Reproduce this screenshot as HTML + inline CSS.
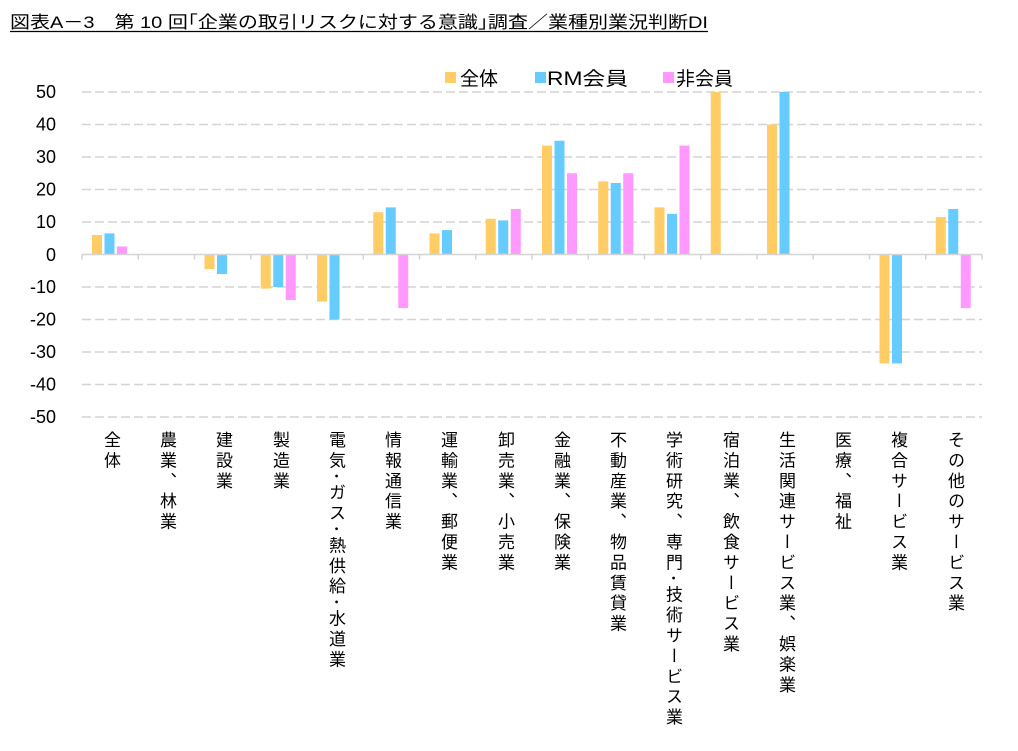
<!DOCTYPE html>
<html><head><meta charset="utf-8"><style>
body{margin:0;background:#fff;width:1018px;height:751px;overflow:hidden;position:relative;font-family:"Liberation Sans","Noto Sans CJK JP",sans-serif;}
.lab{position:absolute;top:431px;writing-mode:vertical-rl;font-size:17px;line-height:18px;color:#000;letter-spacing:3.4px;width:18px;}
</style></head><body>
<svg width="1018" height="751" style="position:absolute;left:0;top:0" font-family="Liberation Sans, Noto Sans CJK JP, sans-serif">
<text x="10" y="28" font-size="17" textLength="698" lengthAdjust="spacingAndGlyphs">図表A－3　第 10 回｢企業の取引リスクに対する意識｣調査／業種別業況判断DI</text>
<line x1="10" y1="31.5" x2="708" y2="31.5" stroke="#000" stroke-width="1.2"/>
<g stroke="#d4d4d4" stroke-width="1.5" stroke-dasharray="9,4">
<line x1="82" y1="92" x2="982" y2="92"/><line x1="82" y1="124.5" x2="982" y2="124.5"/><line x1="82" y1="157" x2="982" y2="157"/><line x1="82" y1="189.5" x2="982" y2="189.5"/><line x1="82" y1="222" x2="982" y2="222"/>
<line x1="82" y1="287" x2="982" y2="287"/><line x1="82" y1="319.5" x2="982" y2="319.5"/><line x1="82" y1="352" x2="982" y2="352"/><line x1="82" y1="384.5" x2="982" y2="384.5"/><line x1="82" y1="417" x2="982" y2="417"/>
</g>
<g font-size="18" text-anchor="end" fill="#000">
<text x="56" y="98">50</text><text x="56" y="130.5">40</text><text x="56" y="163">30</text><text x="56" y="195.5">20</text><text x="56" y="228">10</text><text x="56" y="261">0</text>
<text x="56" y="293">-10</text><text x="56" y="325.5">-20</text><text x="56" y="358">-30</text><text x="56" y="390.5">-40</text><text x="56" y="423">-50</text>
</g>
<g>
<rect x="92" y="235" width="10" height="19.5" fill="#FFCC66"/>
<rect x="104.5" y="233.4" width="10" height="21.1" fill="#66CCFF"/>
<rect x="117" y="246.4" width="10" height="8.1" fill="#FF99FF"/>
<rect x="204.5" y="254.5" width="10" height="14.6" fill="#FFCC66"/>
<rect x="217" y="254.5" width="10" height="19.5" fill="#66CCFF"/>
<rect x="260.75" y="254.5" width="10" height="34.1" fill="#FFCC66"/>
<rect x="273.25" y="254.5" width="10" height="32.5" fill="#66CCFF"/>
<rect x="285.75" y="254.5" width="10" height="45.5" fill="#FF99FF"/>
<rect x="317" y="254.5" width="10" height="47.1" fill="#FFCC66"/>
<rect x="329.5" y="254.5" width="10" height="65" fill="#66CCFF"/>
<rect x="373.25" y="212.25" width="10" height="42.25" fill="#FFCC66"/>
<rect x="385.75" y="207.4" width="10" height="47.1" fill="#66CCFF"/>
<rect x="398.25" y="254.5" width="10" height="53.6" fill="#FF99FF"/>
<rect x="429.5" y="233.4" width="10" height="21.1" fill="#FFCC66"/>
<rect x="442" y="230.1" width="10" height="24.4" fill="#66CCFF"/>
<rect x="485.75" y="218.75" width="10" height="35.75" fill="#FFCC66"/>
<rect x="498.25" y="220.4" width="10" height="34.1" fill="#66CCFF"/>
<rect x="510.75" y="209" width="10" height="45.5" fill="#FF99FF"/>
<rect x="542" y="145.6" width="10" height="108.9" fill="#FFCC66"/>
<rect x="554.5" y="140.75" width="10" height="113.75" fill="#66CCFF"/>
<rect x="567" y="173.25" width="10" height="81.25" fill="#FF99FF"/>
<rect x="598.25" y="181.4" width="10" height="73.1" fill="#FFCC66"/>
<rect x="610.75" y="183" width="10" height="71.5" fill="#66CCFF"/>
<rect x="623.25" y="173.25" width="10" height="81.25" fill="#FF99FF"/>
<rect x="654.5" y="207.4" width="10" height="47.1" fill="#FFCC66"/>
<rect x="667" y="213.9" width="10" height="40.6" fill="#66CCFF"/>
<rect x="679.5" y="145.6" width="10" height="108.9" fill="#FF99FF"/>
<rect x="710.75" y="92" width="10" height="162.5" fill="#FFCC66"/>
<rect x="767" y="124.5" width="10" height="130" fill="#FFCC66"/>
<rect x="779.5" y="92" width="10" height="162.5" fill="#66CCFF"/>
<rect x="879.5" y="254.5" width="10" height="108.9" fill="#FFCC66"/>
<rect x="892" y="254.5" width="10" height="108.9" fill="#66CCFF"/>
<rect x="935.75" y="217.1" width="10" height="37.4" fill="#FFCC66"/>
<rect x="948.25" y="209" width="10" height="45.5" fill="#66CCFF"/>
<rect x="960.75" y="254.5" width="10" height="53.6" fill="#FF99FF"/>
</g>
<line x1="82" y1="254.5" x2="982" y2="254.5" stroke="#d4d4d4" stroke-width="1.5"/>
<path stroke="#d4d4d4" stroke-width="1.5" d="M82 254.5v5M138.25 254.5v5M194.5 254.5v5M250.75 254.5v5M307 254.5v5M363.25 254.5v5M419.5 254.5v5M475.75 254.5v5M532 254.5v5M588.25 254.5v5M644.5 254.5v5M700.75 254.5v5M757 254.5v5M813.25 254.5v5M869.5 254.5v5M925.75 254.5v5M982 254.5v5"/>
<rect x="445" y="72" width="11" height="11" fill="#FFCC66"/><text x="460" y="85" font-size="19">全体</text>
<rect x="535" y="72" width="11" height="11" fill="#66CCFF"/><text x="547" y="85" font-size="19" textLength="81" lengthAdjust="spacingAndGlyphs">RM会員</text>
<rect x="663" y="72" width="11" height="11" fill="#FF99FF"/><text x="676" y="85" font-size="19">非会員</text>
</svg>
<div class="lab" style="left:101px">全体</div>
<div class="lab" style="left:157px">農業、林業</div>
<div class="lab" style="left:213px">建設業</div>
<div class="lab" style="left:270px">製造業</div>
<div class="lab" style="left:326px">電気･ガス･熱供給･水道業</div>
<div class="lab" style="left:382px">情報通信業</div>
<div class="lab" style="left:438px">運輸業、郵便業</div>
<div class="lab" style="left:495px">卸売業、小売業</div>
<div class="lab" style="left:551px">金融業、保険業</div>
<div class="lab" style="left:607px">不動産業、物品賃貸業</div>
<div class="lab" style="left:663px">学術研究、専門･技術サービス業</div>
<div class="lab" style="left:720px">宿泊業、飲食サービス業</div>
<div class="lab" style="left:776px">生活関連サービス業、娯楽業</div>
<div class="lab" style="left:832px">医療、福祉</div>
<div class="lab" style="left:888px">複合サービス業</div>
<div class="lab" style="left:945px">その他のサービス業</div>
</body></html>
